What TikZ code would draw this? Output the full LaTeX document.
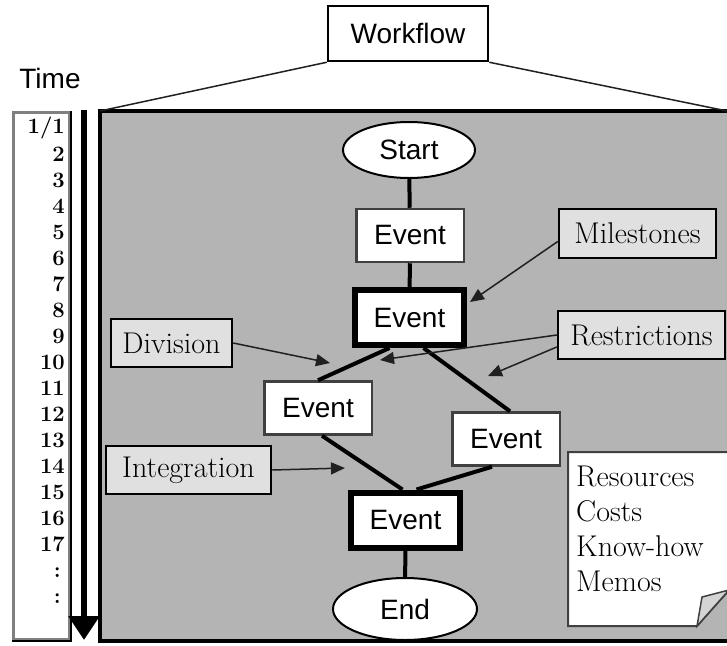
\documentclass[tikz,border=0pt]{standalone}
\usepackage{fontspec}
\newfontfamily\sansf{Liberation Sans}
\usetikzlibrary{arrows.meta,shapes.geometric}
\definecolor{bggray}{HTML}{B4B4B4}
\definecolor{labfill}{HTML}{E0E0E0}
\definecolor{foldfill}{HTML}{D4D4D4}
\definecolor{boxline}{HTML}{404040}
\definecolor{linegray}{HTML}{202020}
\begin{document}
\begin{tikzpicture}[x=1pt,y=-1pt,
  sansfont/.style={font=\sansf\fontsize{28}{30}\selectfont},
  evt/.style={sansfont, draw=boxline, line width=2.5pt, fill=white, minimum width=107.5pt, minimum height=53pt, inner sep=0pt},
  evtbold/.style={sansfont, draw=black, line width=6pt, fill=white, minimum width=109pt, minimum height=55pt, inner sep=0pt},
  term/.style={sansfont, ellipse, draw=black, line width=2pt, fill=white, inner sep=0pt},
  lab/.style={draw=black, line width=2.5pt, fill=labfill, inner sep=0pt, font=\fontsize{30}{35}\selectfont},
  num/.style={anchor=east, inner sep=0pt, font=\bfseries\fontsize{22}{22}\selectfont},
  flow/.style={line width=4pt, draw=black},
  thinline/.style={line width=1.5pt, draw=linegray},
  tip/.style={-{Triangle[length=14pt,width=12pt]}},
]
\useasboundingbox (0,0) rectangle (727,645);

% main gray area
\coordinate (mtl) at (100,111);
\coordinate (mtr) at (727,111);
\draw[line width=3.5pt, fill=bggray] (100,111) rectangle (740,641);

% workflow box
\node[sansfont, draw=black, line width=2.5pt, fill=white, minimum width=160pt, minimum height=55pt, inner sep=0pt] (wf) at (408,33.5) {Workflow};
\draw[thinline] (wf.south west) -- (mtl);
\draw[thinline] (wf.south east) -- (mtr);

% time
\node[sansfont, inner sep=0pt] (time) at (50,78) {Time};
\node[draw=gray, line width=2.5pt, fill=white, minimum width=56pt, minimum height=527pt, inner sep=0pt] (tcol) at (41.5,376) {};
\draw[line width=2.5pt, black] (tcol.north east) -- (tcol.south east) -- (tcol.south west);
\node[num] (n1) at (65,128) {1/1};
\foreach \i in {2,...,17} {
  \node[num] (n\i) at (65,{128+26*(\i-1)}) {\i};
}
\node[num] (c1) at (61,573) {:};
\node[num] (c2) at (61,599) {:};
\coordinate (ttop) at (84,110);
\coordinate (tbot) at (84,640);
\draw[line width=6pt, -{Triangle[length=24pt,width=30pt]}] (ttop) -- (tbot);

% flow nodes
\node[term, minimum width=132pt, minimum height=56pt] (start) at (409,150) {Start};
\node[evt] (e1) at (410,235.5) {Event};
\node[evtbold] (e2) at (409.5,317.5) {Event};
\node[evt] (e3) at (318,408) {Event};
\node[evt] (e4) at (506,439) {Event};
\node[evtbold] (e5) at (405.5,520) {Event};
\node[term, minimum width=144pt, minimum height=62pt] (end) at (405,609) {End};

\draw[flow] (start) -- (e1);
\draw[flow] (e1) -- (e2);
\draw[flow] ([xshift=-20pt]e2.south) -- (e3.north);
\draw[flow] ([xshift=14pt]e2.south) -- ([xshift=4pt]e4.north);
\draw[flow] ([xshift=4pt]e3.south) -- ([xshift=-3pt]e5.north);
\draw[flow] ([xshift=-14pt]e4.south) -- ([xshift=11pt]e5.north);
\draw[flow] (e5) -- (end);

% labels
\node[lab, minimum width=121pt, minimum height=48pt] (div) at (171.5,343) {Division};
\node[lab, minimum width=157pt, minimum height=49pt] (mil) at (637.5,233.5) {Milestones};
\node[lab, minimum width=167pt, minimum height=48pt] (res) at (641.5,335) {Restrictions};
\node[lab, minimum width=165pt, minimum height=48pt] (int) at (188.5,470) {Integration};

\coordinate (dtip) at (330,363);
\coordinate (rtip1) at (380,360);
\coordinate (rtip2) at (488,376);
\coordinate (itip) at (345,468);
\draw[thinline, tip] ([yshift=-8pt]mil.west) -- ([xshift=3pt,yshift=-15pt]e2.north east);
\draw[thinline, tip] (div.east) -- (dtip);
\draw[thinline, tip] (res.west) -- (rtip1);
\draw[thinline, tip] ([yshift=-12pt]res.west) -- (rtip2);
\draw[thinline, tip] (int.east) -- (itip);

% note
\draw[draw=boxline, line width=2pt, fill=white] (568,452) -- (729,452) -- (729,590) -- (697,626) -- (568,626) -- cycle;
\draw[draw=boxline, line width=1.5pt, fill=foldfill] (697,626) -- (702,597) -- (729,590) -- cycle;
\node[align=left, anchor=west, inner sep=0pt, font=\fontsize{30}{35}\selectfont] (note) at (576,529) {Resources\\Costs\\Know-how\\Memos};
\end{tikzpicture}
\end{document}
